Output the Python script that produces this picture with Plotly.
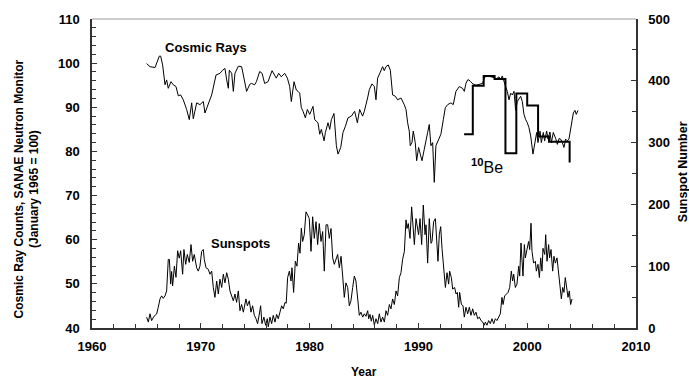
import plotly.graph_objects as go

# ---------------- data ----------------
cr_year = [1965.02, 1965.33, 1965.79, 1965.94, 1966.19, 1966.31, 1966.49, 1966.71, 1966.86, 1967.01,
           1967.26, 1967.47, 1967.72, 1967.93, 1968.15, 1968.39, 1968.70, 1968.94, 1969.16, 1969.31,
           1969.62, 1969.92, 1970.23, 1970.38, 1970.69, 1970.84, 1971.00, 1971.40, 1971.76, 1972.01,
           1972.22, 1972.38, 1972.53, 1972.62, 1972.84, 1972.99, 1973.14, 1973.45, 1973.75, 1973.91,
           1974.21, 1974.50, 1974.65, 1974.95, 1975.11, 1975.41, 1975.63, 1975.87, 1976.18, 1976.55,
           1976.79, 1976.94, 1977.16, 1977.40, 1977.71, 1977.96, 1978.17, 1978.32, 1978.57, 1978.78,
           1978.94, 1979.09, 1979.24, 1979.40, 1979.61, 1979.79, 1980.01, 1980.16, 1980.31, 1980.47,
           1980.77, 1980.93, 1981.08, 1981.33, 1981.45, 1981.69, 1981.85, 1982.00, 1982.24, 1982.46,
           1982.61, 1982.86, 1983.07, 1983.29, 1983.53, 1983.84, 1984.14, 1984.39, 1984.60, 1984.87,
           1985.03, 1985.33, 1985.49, 1985.73, 1985.95, 1986.10, 1986.25, 1986.47, 1986.71, 1986.86,
           1987.02, 1987.23, 1987.42, 1987.63, 1987.88, 1988.09, 1988.40, 1988.70, 1988.86, 1989.01,
           1989.16, 1989.25, 1989.41, 1989.53, 1989.71, 1989.84, 1990.02, 1990.17, 1990.33, 1990.54,
           1990.69, 1990.85, 1991.00, 1991.15, 1991.31, 1991.46, 1991.61, 1991.86, 1992.07, 1992.29,
           1992.47, 1992.69, 1992.99, 1993.20, 1993.45, 1993.76, 1994.06, 1994.22, 1994.37, 1994.52,
           1994.65, 1994.80, 1995.00, 1995.30, 1995.60, 1995.90, 1996.10, 1996.40, 1996.70, 1997.00,
           1997.20, 1997.41, 1997.56, 1997.71, 1997.87, 1998.02, 1998.17, 1998.33, 1998.48, 1998.63,
           1998.79, 1998.94, 1999.09, 1999.25, 1999.40, 1999.55, 1999.70, 1999.86, 2000.01, 2000.16,
           2000.32, 2000.53, 2000.69, 2000.87, 2000.99, 2001.18, 2001.30, 2001.48, 2001.60, 2001.79,
           2001.91, 2002.09, 2002.22, 2002.40, 2002.62, 2002.77, 2002.92, 2003.07, 2003.23, 2003.38,
           2003.53, 2003.69, 2003.84, 2004.06, 2004.24, 2004.39, 2004.51, 2004.67]
cr_value = [99.9, 99.2, 99.0, 100.1, 101.6, 101.6, 99.6, 95.1, 96.2, 94.3,
            95.8, 95.1, 94.7, 92.6, 92.8, 91.7, 89.5, 87.2, 91.0, 87.4,
            91.0, 90.6, 91.3, 88.7, 91.0, 92.1, 92.8, 97.3, 97.7, 98.4,
            98.8, 96.2, 94.3, 98.4, 97.7, 93.6, 97.7, 99.3, 99.2, 97.3,
            93.6, 95.2, 95.4, 95.1, 95.8, 98.1, 97.7, 95.4, 95.8, 98.3,
            97.3, 96.6, 97.7, 96.9, 97.7, 96.6, 94.7, 91.3, 95.8, 93.9,
            93.6, 93.2, 89.9, 89.1, 87.6, 89.5, 88.4, 89.5, 90.2, 87.2,
            86.5, 83.9, 85.0, 82.4, 84.3, 86.5, 85.0, 87.2, 88.6, 81.3,
            79.4, 80.9, 84.3, 85.7, 87.6, 88.0, 89.1, 86.5, 89.5, 88.0,
            89.1, 92.1, 94.0, 95.3, 94.7, 91.7, 96.6, 97.8, 99.2, 98.3,
            99.2, 99.6, 98.4, 92.8, 92.5, 91.7, 92.1, 90.6, 89.5, 86.5,
            84.6, 81.3, 82.0, 84.6, 82.0, 77.9, 80.9, 79.4, 77.9, 80.5,
            82.0, 84.3, 86.1, 81.3, 82.0, 73.0, 81.3, 82.8, 83.9, 87.2,
            89.9, 90.6, 91.0, 90.6, 93.6, 94.7, 94.3, 93.6, 95.4, 96.2,
            96.2, 95.8, 95.3, 95.0, 95.2, 95.4, 96.9, 97.0, 96.9, 96.6,
            96.5, 96.9, 96.2, 97.1, 95.5, 94.7, 93.6, 91.7, 93.2, 92.8,
            93.6, 89.3, 91.3, 92.1, 92.5, 91.3, 88.4, 87.2, 86.5, 85.4,
            83.5, 79.4, 81.6, 84.3, 82.0, 84.6, 82.0, 84.3, 82.4, 84.6,
            82.8, 84.4, 82.0, 84.3, 82.9, 81.6, 82.9, 82.8, 82.0, 80.9,
            82.8, 82.4, 82.8, 85.8, 88.7, 89.3, 88.4, 89.3]

ss_year = [1965.02, 1965.18, 1965.33, 1965.48, 1965.70, 1965.94, 1966.09, 1966.25, 1966.40, 1966.55,
           1966.71, 1966.86, 1967.01, 1967.11, 1967.23, 1967.32, 1967.41, 1967.57, 1967.72, 1967.87,
           1968.02, 1968.15, 1968.33, 1968.45, 1968.61, 1968.76, 1968.94, 1969.10, 1969.25, 1969.40,
           1969.62, 1969.77, 1969.92, 1970.08, 1970.23, 1970.32, 1970.48, 1970.69, 1970.84, 1971.00,
           1971.15, 1971.30, 1971.46, 1971.61, 1971.76, 1971.92, 1972.07, 1972.22, 1972.38, 1972.53,
           1972.68, 1972.84, 1972.99, 1973.14, 1973.29, 1973.45, 1973.60, 1973.75, 1973.91, 1974.15,
           1974.28, 1974.46, 1974.61, 1974.76, 1974.92, 1975.07, 1975.22, 1975.38, 1975.50, 1975.62,
           1975.80, 1975.96, 1976.11, 1976.20, 1976.36, 1976.51, 1976.66, 1976.82, 1976.97, 1977.12,
           1977.28, 1977.43, 1977.58, 1977.74, 1977.85, 1977.98, 1978.14, 1978.29, 1978.38, 1978.53,
           1978.69, 1978.84, 1978.99, 1979.12, 1979.24, 1979.36, 1979.51, 1979.67, 1979.82, 1979.97,
           1980.13, 1980.28, 1980.43, 1980.59, 1980.74, 1980.89, 1981.05, 1981.20, 1981.35, 1981.51,
           1981.66, 1981.81, 1981.97, 1982.12, 1982.27, 1982.43, 1982.58, 1982.73, 1982.89, 1983.04,
           1983.19, 1983.34, 1983.50, 1983.65, 1983.80, 1983.96, 1984.11, 1984.26, 1984.42, 1984.57,
           1984.72, 1984.88, 1985.03, 1985.18, 1985.34, 1985.43, 1985.55, 1985.67, 1985.80, 1985.95,
           1986.10, 1986.26, 1986.41, 1986.56, 1986.71, 1986.87, 1987.02, 1987.17, 1987.33, 1987.48,
           1987.63, 1987.79, 1987.94, 1988.09, 1988.25, 1988.40, 1988.55, 1988.71, 1988.86, 1988.95,
           1989.07, 1989.23, 1989.38, 1989.53, 1989.63, 1989.78, 1989.93, 1990.02, 1990.15, 1990.30,
           1990.45, 1990.61, 1990.70, 1990.85, 1991.00, 1991.16, 1991.25, 1991.40, 1991.56, 1991.71,
           1991.80, 1991.92, 1992.05, 1992.17, 1992.32, 1992.48, 1992.63, 1992.78, 1992.87, 1993.03,
           1993.15, 1993.33, 1993.46, 1993.58, 1993.70, 1993.79, 1993.95, 1994.10, 1994.22, 1994.37,
           1994.53, 1994.68, 1994.83, 1994.99, 1995.14, 1995.29, 1995.45, 1995.60, 1995.75, 1995.91,
           1996.06, 1996.15, 1996.30, 1996.46, 1996.61, 1996.76, 1996.92, 1997.07, 1997.22, 1997.38,
           1997.53, 1997.68, 1997.78, 1997.93, 1998.08, 1998.24, 1998.39, 1998.54, 1998.66, 1998.76,
           1998.91, 1999.06, 1999.22, 1999.31, 1999.43, 1999.52, 1999.61, 1999.74, 1999.83, 1999.98,
           2000.13, 2000.23, 2000.35, 2000.44, 2000.59, 2000.75, 2000.84, 2000.99, 2001.12, 2001.24,
           2001.36, 2001.45, 2001.61, 2001.70, 2001.82, 2001.97, 2002.06, 2002.19, 2002.34, 2002.46,
           2002.59, 2002.74, 2002.89, 2003.05, 2003.14, 2003.26, 2003.38, 2003.50, 2003.66, 2003.75,
           2003.87, 2003.99, 2004.12]
ss_value = [17.6, 9.6, 23, 12, 19, 22.6, 33.6, 47, 52, 48,
            52, 60, 111, 111, 71, 91.5, 68, 100, 82, 125,
            113, 125, 87, 127, 103, 119, 106, 135, 108, 119,
            97.5, 92, 100, 124, 127, 111, 97.5, 95, 87, 92,
            65.6, 49.6, 76, 55, 79, 65.6, 87, 73, 89.5, 79,
            60, 49.6, 44, 55, 41.5, 60, 28, 38, 25.6, 47,
            36, 44, 25.6, 36, 20.5, 15.2, 7, 22.6, 36, 7,
            17.6, 4.5, 15, 2, 17.6, 7, 20.5, 9.6, 22, 15,
            28, 36, 31, 41.5, 40, 81.6, 92, 76, 97.5, 57.6,
            108, 100, 137.5, 121, 161.5, 140, 151, 188, 183, 177,
            124, 180, 145, 172, 135, 169, 140, 156, 92, 167,
            167, 145, 161, 113.5, 103, 113.5, 119, 97.5, 116, 84,
            49.6, 73, 65.6, 36, 44, 65.6, 84, 76, 49.6, 20.5,
            25.6, 17.6, 23, 19, 28, 15, 22, 11, 20.5, 4.5,
            15, 7, 23, 9.6, 17.6, 9.6, 28, 20.5, 38, 31,
            47, 38, 60, 52, 81.6, 89.5, 111, 124, 175, 161,
            169, 145, 196, 161, 135, 177, 156, 151, 177, 135,
            199, 151, 167, 105, 177, 137, 140, 172, 177, 119,
            108, 151, 164, 129, 92, 65.6, 89.5, 71, 92, 81.6,
            63, 65.6, 55, 57.6, 33.6, 57.6, 38, 36, 17.6, 33.6,
            23, 33.6, 20.5, 31, 20.5, 25.6, 15, 17.6, 12, 9.6,
            4.5, 9.6, 4.5, 12, 7, 15, 7, 15, 12, 17.6,
            23, 49.6, 38, 52, 55, 57.6, 65.6, 92, 76, 87,
            65.6, 71, 100, 84, 137.5, 113.5, 84, 135, 113.5, 127,
            140, 127, 169.5, 124, 105, 108, 92, 103, 81.6, 113.5,
            92, 129, 119, 151, 108, 135, 113.5, 127, 92, 116,
            105, 113.5, 84, 63, 47, 65.6, 57.6, 81.6, 65.6, 49.6,
            60, 38, 47]

be_year = [1994.2, 1995.0, 1996.0, 1997.0, 1998.0, 1999.0, 2000.0, 2001.0, 2002.0, 2003.9]
be_value = [83.9, 94.9, 97.1, 96.4, 79.6, 93.1, 90.4, 83.4, 82.2, 77.5]

# ---------------- figure ----------------
FONT = "Liberation Sans, Arial, sans-serif"
AX = "#333333"

fig = go.Figure()
fig.add_trace(go.Scatter(x=cr_year, y=cr_value, mode="lines",
                         line=dict(color="black", width=1), yaxis="y"))
fig.add_trace(go.Scatter(x=be_year, y=be_value, mode="lines",
                         line=dict(color="black", width=2, shape="hv"), yaxis="y"))
fig.add_trace(go.Scatter(x=ss_year, y=ss_value, mode="lines",
                         line=dict(color="black", width=1), yaxis="y2"))

tickfont = dict(family=FONT, size=13, color="black", weight="bold")

fig.update_layout(
    width=689, height=378,
    margin=dict(l=92, r=53, t=15, b=50),
    paper_bgcolor="white", plot_bgcolor="white",
    showlegend=False,
    xaxis=dict(range=[1960, 2010], dtick=10, tick0=1960, showgrid=False, zeroline=False,
               showline=True, linecolor=AX, linewidth=1.5,
               ticks="inside", ticklen=5, tickcolor=AX,
               minor=dict(dtick=2, ticks="inside", ticklen=4, tickcolor=AX, showgrid=False),
               tickfont=tickfont, ticklabelstandoff=6),
    yaxis=dict(range=[40, 110], dtick=10, showgrid=False, zeroline=False,
               showline=True, linecolor=AX, linewidth=1.5,
               ticks="inside", ticklen=5, tickcolor=AX,
               minor=dict(dtick=2, ticks="inside", ticklen=4, tickcolor=AX, showgrid=False),
               tickfont=tickfont, ticklabelstandoff=8),
    yaxis2=dict(range=[0, 500], dtick=100, overlaying="y", side="right", showgrid=False,
                zeroline=False, showline=True, linecolor=AX, linewidth=1.5,
                ticks="inside", ticklen=5, tickcolor=AX,
                minor=dict(dtick=50, ticks="inside", ticklen=4, tickcolor=AX, showgrid=False),
                tickfont=tickfont, ticklabelstandoff=8),
    shapes=[dict(type="line", xref="paper", yref="paper", x0=0, x1=1, y0=1, y1=1,
                 line=dict(color="#999999", width=1))],
)

lab = dict(family=FONT, size=13, color="black", weight="bold")
ttl = dict(family=FONT, size=12, color="black", weight="bold")
fig.add_annotation(x=1970.52, y=103.6, xref="x", yref="y", text="Cosmic Rays",
                   showarrow=False, font=lab)
fig.add_annotation(x=1973.68, y=59.1, xref="x", yref="y", text="Sunspots",
                   showarrow=False, font=lab)
fig.add_annotation(x=1996.35, y=76.6, xref="x", yref="y", text="<sup><b>10</b></sup>Be",
                   showarrow=False, font=dict(family=FONT, size=16, color="black"))
fig.add_annotation(x=(27 - 92) / 544, y=(327.7 - 187.5) / 312.7, xref="paper", yref="paper",
                   text="Cosmic Ray Counts, SANAE Neutron Monitor<br>(January 1965 = 100)",
                   textangle=-90, showarrow=False, font=ttl, xanchor="center", yanchor="middle")
fig.add_annotation(x=(683 - 92) / 544, y=(327.7 - 170) / 312.7, xref="paper", yref="paper",
                   text="Sunspot Number", textangle=-90, showarrow=False,
                   font=dict(family=FONT, size=12.5, color="black", weight="bold"),
                   xanchor="center", yanchor="middle")
fig.add_annotation(x=0.5, y=(327.7 - 372) / 312.7, xref="paper", yref="paper",
                   text="Year", showarrow=False, font=ttl, xanchor="center", yanchor="middle")

fig.write_html("out.html", config={"displayModeBar": False},
               post_script="document.body.style.margin='0';document.body.style.overflow='hidden';")
